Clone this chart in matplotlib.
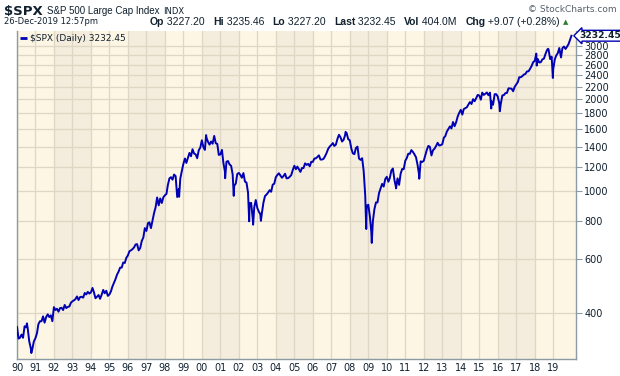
import matplotlib
matplotlib.use("Agg")
import matplotlib.pyplot as plt
from matplotlib.ticker import FixedLocator, NullLocator
import pandas as pd

# ---- data (approximate month-end values) ----
monthly_values = [
    # 1990
    329, 331, 339, 331, 361, 358, 356, 322, 306, 304, 322, 330,
    # 1991
    343, 367, 375, 375, 389, 371, 387, 395, 387, 392, 375, 417,
    # 1992
    408, 412, 403, 414, 415, 408, 424, 414, 418, 419, 431, 436,
    # 1993
    439, 443, 452, 440, 450, 451, 448, 464, 459, 468, 462, 466,
    # 1994
    482, 467, 446, 451, 457, 444, 458, 475, 463, 472, 454, 459,
    # 1995
    470, 487, 501, 515, 533, 545, 562, 562, 584, 582, 605, 616,
    # 1996
    636, 640, 646, 654, 669, 671, 640, 652, 687, 705, 757, 741,
    # 1997
    786, 791, 757, 801, 848, 885, 954, 899, 947, 915, 955, 970,
    # 1998
    980, 1049, 1102, 1112, 1091, 1134, 1121, 957, 1017, 1099, 1164, 1229,
    # 1999
    1280, 1238, 1286, 1335, 1302, 1373, 1329, 1320, 1283, 1363, 1389, 1469,
    # 2000
    1394, 1366, 1499, 1452, 1421, 1455, 1431, 1518, 1437, 1429, 1315, 1320,
    # 2001
    1366, 1240, 1160, 1249, 1256, 1224, 1211, 1134, 1041, 1060, 1139, 1148,
    # 2002
    1130, 1107, 1147, 1076, 1067, 990, 912, 916, 815, 886, 936, 880,
    # 2003
    856, 841, 848, 917, 964, 975, 990, 1008, 996, 1051, 1058, 1112,
    # 2004
    1131, 1145, 1126, 1107, 1121, 1141, 1102, 1104, 1115, 1130, 1174, 1212,
    # 2005
    1181, 1204, 1181, 1157, 1192, 1191, 1234, 1220, 1229, 1207, 1249, 1248,
    # 2006
    1280, 1281, 1295, 1311, 1270, 1270, 1277, 1304, 1336, 1378, 1401, 1418,
    # 2007
    1438, 1407, 1421, 1482, 1531, 1503, 1455, 1474, 1527, 1549, 1481, 1468,
    # 2008
    1378, 1331, 1323, 1386, 1400, 1280, 1267, 1283, 1166, 969, 896, 903,
    # 2009
    826, 735, 798, 873, 919, 919, 987, 1021, 1057, 1036, 1096, 1115,
    # 2010
    1074, 1104, 1169, 1187, 1089, 1031, 1102, 1049, 1141, 1183, 1181, 1258,
    # 2011
    1286, 1327, 1326, 1364, 1345, 1321, 1292, 1219, 1131, 1253, 1247, 1258,
    # 2012
    1312, 1366, 1408, 1398, 1310, 1362, 1379, 1407, 1441, 1412, 1416, 1426,
    # 2013
    1498, 1515, 1569, 1598, 1631, 1606, 1686, 1633, 1682, 1757, 1806, 1848,
    # 2014
    1783, 1859, 1872, 1884, 1924, 1960, 1931, 2003, 1972, 2018, 2068, 2059,
    # 2015
    1995, 2105, 2068, 2086, 2107, 2063, 2104, 1972, 1920, 2079, 2080, 2044,
    # 2016
    1940, 1932, 2060, 2065, 2097, 2099, 2174, 2171, 2168, 2126, 2199, 2239,
    # 2017
    2279, 2364, 2363, 2384, 2412, 2423, 2470, 2472, 2519, 2575, 2648, 2674,
    # 2018
    2824, 2714, 2641, 2648, 2705, 2718, 2816, 2902, 2914, 2712, 2760, 2507,
    # 2019 (Jan-Nov)
    2704, 2784, 2834, 2946, 2752, 2942, 2980, 2926, 2977, 3038, 3141,
]
monthly_start = "1990-01-31"

extra_dates = [
    "1990-01-02", "1990-07-16", "1990-10-11", "1998-10-08", "2000-03-24",
    "2001-04-04", "2001-09-21", "2002-07-23", "2002-10-09", "2003-03-11",
    "2007-10-09", "2008-11-20", "2009-03-09", "2010-07-02", "2011-10-03",
    "2015-08-25", "2016-02-11", "2018-02-08", "2018-09-20", "2018-12-24",
    "2019-06-03", "2019-12-26",
]
extra_values = [
    359, 369, 295, 959, 1527,
    1103, 966, 797, 777, 800,
    1565, 752, 677, 1022, 1099,
    1867, 1829, 2581, 2930, 2351,
    2744, 3232.45,
]

y_ticks = [400, 600, 800, 1000, 1200, 1400, 1600, 1800, 2000, 2200, 2400,
           2600, 2800, 3000]
years = list(range(1990, 2020))
last_value = 3232.45

# ---- assemble series ----
mdates_idx = pd.date_range(monthly_start, periods=len(monthly_values), freq="ME")
s = pd.concat([
    pd.Series(monthly_values, index=mdates_idx, dtype=float),
    pd.Series(extra_values, index=pd.to_datetime(extra_dates), dtype=float),
]).sort_index()

# ---- figure ----
fig = plt.figure(figsize=(6.2, 3.76), dpi=100)
fig.patch.set_facecolor("white")
ax = fig.add_axes([17 / 620, 1 - 359 / 376, (576 - 17) / 620, (359 - 31) / 376])

light = "#fdf6e4"
dark = "#f4ecdc"
ax.set_facecolor(light)
for y0 in years:
    if y0 % 4 == 0:
        ax.axvspan(pd.Timestamp(f"{y0}-01-01"), pd.Timestamp(f"{y0 + 2}-01-01"),
                   color=dark, lw=0, zorder=0)

ax.set_yscale("log")
ax.set_ylim(282, 3350)
ax.set_xlim(pd.Timestamp("1990-01-01"), pd.Timestamp("2020-03-25"))

grid_c = "#e0d6c4"
for y0 in years:
    ax.axvline(pd.Timestamp(f"{y0}-01-01"), color=grid_c, lw=0.9, zorder=1)
for v in y_ticks:
    ax.axhline(v, color=grid_c, lw=0.9, zorder=1)

ax.plot(s.index, s.values, color="#0000b4", lw=1.4, zorder=3)

# axes styling
spine_c = "#8c9ba3"
for side in ["left", "bottom", "right"]:
    ax.spines[side].set_color(spine_c)
    ax.spines[side].set_linewidth(1.0)
ax.spines["top"].set_visible(False)

ax.yaxis.tick_right()
ax.yaxis.set_major_locator(FixedLocator(y_ticks))
ax.yaxis.set_minor_locator(NullLocator())
ax.set_yticklabels([str(v) for v in y_ticks])
ax.tick_params(axis="y", which="major", length=4, width=0.8, color=spine_c,
               labelsize=7, labelcolor="#10202e", pad=2)

ax.set_xticks([pd.Timestamp(f"{y0}-01-01") for y0 in years])
ax.set_xticklabels([f"{y0 % 100:02d}" for y0 in years])
ax.tick_params(axis="x", which="major", length=0, labelsize=7,
               labelcolor="#10202e", pad=3)
for lab in ax.get_yticklabels() + ax.get_xticklabels():
    lab.set_family("DejaVu Sans")

# legend
ax.plot([0.006, 0.018], [0.978, 0.978], transform=ax.transAxes, color="#0000b4",
        lw=2, solid_capstyle="butt", zorder=5)
ax.text(0.023, 0.978, f"$SPX (Daily) {last_value:.2f}", transform=ax.transAxes,
        fontsize=6.5, color="#10202e", va="center", ha="left", zorder=5,
        family="DejaVu Sans")

# last value tag
ax.annotate(f"{last_value:.2f}", xy=(1.0, last_value), xycoords=("axes fraction", "data"),
            xytext=(2.5, 0), textcoords="offset points", fontsize=6.6, fontweight="bold",
            color="#10202e", va="center", ha="left", annotation_clip=False,
            family="DejaVu Sans",
            bbox=dict(boxstyle="larrow,pad=0.1", fc="white", ec="#0000b4", lw=1))

# header
fig.canvas.draw()
renderer = fig.canvas.get_renderer()


def chain(items, x0, y, gap_px=0.0):
    xpos = x0 / 620
    for txt, kw in items:
        t = fig.text(xpos, 1 - y / 376, txt, va="center", ha="left", color="#10202e", **kw)
        bb = t.get_window_extent(renderer=renderer)
        xpos += (bb.width + gap_px) / fig.bbox.width
    return xpos


chain([("$SPX", dict(fontsize=9.5, fontweight="bold", family="DejaVu Sans")),
       ("S&P 500 Large Cap Index", dict(fontsize=7, family="Liberation Sans")),
       ("INDX", dict(fontsize=6, family="DejaVu Sans"))], 4, 11, gap_px=4)

fig.text(617 / 620, 1 - 10 / 376, "© StockCharts.com", fontsize=6.5,
         color="#55606a", va="center", ha="right", family="DejaVu Sans")
fig.text(4 / 620, 1 - 22 / 376, "26-Dec-2019 12:57pm", fontsize=6,
         color="#10202e", va="center", ha="left", family="DejaVu Sans")

parts = [("Op", True), (" 3227.20  ", False), ("Hi", True), (" 3235.46  ", False),
         ("Lo", True), (" 3227.20  ", False), ("Last", True), (" 3232.45  ", False),
         ("Vol", True), (" 404.0M  ", False), ("Chg", True), (" +9.07 (+0.28%)", False)]
xpos = 150 / 620
for txt, bold in parts:
    t = fig.text(xpos, 1 - 22 / 376, txt, fontsize=7.5, fontweight="bold" if bold else "normal",
                 color="#10202e", va="center", ha="left", family="Liberation Sans")
    bb = t.get_window_extent(renderer=renderer)
    xpos += bb.width / fig.bbox.width + (0.004 if txt.endswith(" ") else 0)
fig.text(xpos + 3 / 620, 1 - 22 / 376, "▲", fontsize=5, color="#2e7d32",
         va="center", ha="left", family="DejaVu Sans")

fig.savefig("out.png", dpi=100, facecolor="white")
